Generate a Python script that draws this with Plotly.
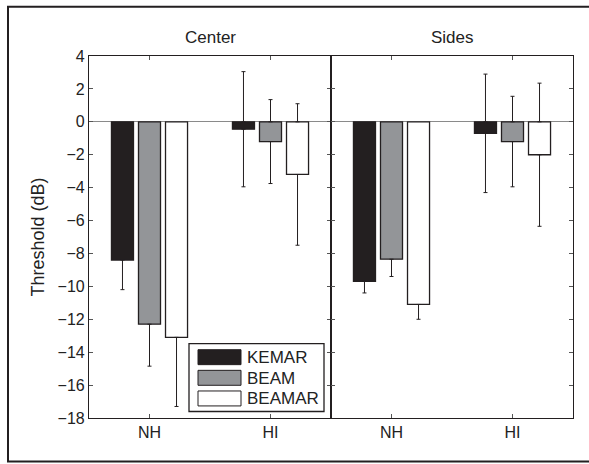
import plotly.graph_objects as go
from plotly.subplots import make_subplots

# ---- data ----
groups = ["NH", "HI"]
panels = ["Center", "Sides"]
series = ["KEMAR", "BEAM", "BEAMAR"]
colors = ["#231f20", "#939598", "#ffffff"]

center_mean = {"KEMAR": [-8.4, -0.45], "BEAM": [-12.3, -1.2], "BEAMAR": [-13.1, -3.2]}
center_sd = {"KEMAR": [1.8, 3.5], "BEAM": [2.55, 2.55], "BEAMAR": [4.2, 4.3]}
sides_mean = {"KEMAR": [-9.7, -0.7], "BEAM": [-8.35, -1.2], "BEAMAR": [-11.1, -2.0]}
sides_sd = {"KEMAR": [0.7, 3.6], "BEAM": [1.05, 2.75], "BEAMAR": [0.9, 4.35]}

y_ticks = list(range(-18, 5, 2))
y_ticktext = [str(v).replace("-", "\u2212") for v in y_ticks]

W, H = 589, 464
ML, MR, MT, MB = 89, 16, 55.5, 45.5
PW = W - ML - MR
PH = H - MT - MB


def px(x):
    return (x - ML) / PW


def py(y):
    return (H - MB - y) / PH


ink = "#231f20"
txt = "#222222"
font_family = "Liberation Sans, Arial, Helvetica, sans-serif"

fig = make_subplots(rows=1, cols=2, shared_yaxes=True, horizontal_spacing=0)

for col, (means, sds) in enumerate([(center_mean, center_sd), (sides_mean, sides_sd)], start=1):
    for name, color in zip(series, colors):
        m = means[name]
        s = sds[name]
        fig.add_trace(
            go.Bar(
                x=groups, y=m, name=name, offsetgroup=name,
                marker=dict(color=color, line=dict(color=ink, width=1.3)),
                error_y=dict(type="data", symmetric=False, array=[0] * len(m),
                             arrayminus=s, color=ink, thickness=1, width=2),
                showlegend=False,
            ),
            row=1, col=col,
        )
        # visible upper part of the whisker (above the zero line)
        up_base = [0 if (v + e) > 0 else None for v, e in zip(m, s)]
        up_len = [(v + e) if (v + e) > 0 else 0 for v, e in zip(m, s)]
        fig.add_trace(
            go.Bar(
                x=groups, y=up_base, name=name, offsetgroup=name,
                marker=dict(color="rgba(0,0,0,0)", line=dict(width=0)),
                error_y=dict(type="data", symmetric=False, array=up_len,
                             arrayminus=[0] * len(m), color=ink, thickness=1, width=2),
                showlegend=False, hoverinfo="skip",
            ),
            row=1, col=col,
        )

axis_common = dict(showline=True, linecolor=ink, linewidth=1.2, mirror="allticks",
                   ticks="inside", ticklen=4, tickcolor="#555", tickwidth=1,
                   showgrid=False)

for c in (1, 2):
    fig.update_xaxes(range=[-0.5, 1.5], tickfont=dict(size=16, color=txt, family=font_family),
                     zeroline=False, row=1, col=c, **axis_common)
    fig.update_yaxes(range=[-18, 4], tickvals=y_ticks, ticktext=y_ticktext, zeroline=True,
                     zerolinecolor="#8a8a8a", zerolinewidth=1.2,
                     tickfont=dict(size=16, color=txt, family=font_family),
                     row=1, col=c, **axis_common)

fig.update_yaxes(title=dict(text="Threshold (dB)", font=dict(size=18, color=txt, family=font_family),
                            standoff=8), row=1, col=1)

# panel titles
for i, t in enumerate(panels):
    fig.add_annotation(text=t, x=px(ML + PW * (0.25 + 0.5 * i)), y=py(37), xref="paper", yref="paper",
                       showarrow=False, xanchor="center", yanchor="middle",
                       font=dict(size=17, color=txt, family=font_family))

shapes = []
# outer frame
shapes.append(dict(type="rect", xref="paper", yref="paper", x0=px(8), x1=px(640), y0=py(6), y1=py(462),
                   line=dict(color=ink, width=2), fillcolor="rgba(0,0,0,0)"))
# legend box
shapes.append(dict(type="rect", xref="paper", yref="paper", x0=px(189), x1=px(324), y0=py(344), y1=py(412),
                   line=dict(color=ink, width=1.3), fillcolor="white", layer="above"))
for k, (name, color) in enumerate(zip(series, colors)):
    top = 350 + k * 20.7
    shapes.append(dict(type="rect", xref="paper", yref="paper", x0=px(198), x1=px(241),
                       y0=py(top), y1=py(top + 15), line=dict(color=ink, width=1),
                       fillcolor=color, layer="above"))
    fig.add_annotation(text=name, x=px(245), y=py(top + 7.8), xref="paper", yref="paper",
                       showarrow=False, xanchor="left", yanchor="middle",
                       font=dict(size=17, color=txt, family=font_family))

fig.update_layout(
    width=W, height=H, barmode="group", bargap=0.33, bargroupgap=0.185,
    margin=dict(l=ML, r=MR, t=MT, b=MB),
    paper_bgcolor="white", plot_bgcolor="white",
    shapes=shapes, showlegend=False,
    font=dict(family=font_family, color=txt),
)

fig.write_html("out.html")
